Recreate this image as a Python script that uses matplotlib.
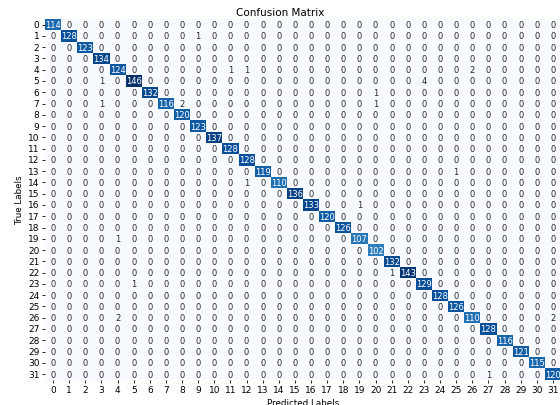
import numpy as np
import matplotlib
matplotlib.use("Agg")
import matplotlib.pyplot as plt
import seaborn as sns

n_classes = 32
labels = [str(i) for i in range(n_classes)]

# correct predictions per class (diagonal)
diagonal = [114, 128, 123, 134, 124, 146, 132, 116, 120, 123, 137, 128, 128, 119, 110, 136,
            133, 120, 126, 107, 102, 132, 143, 129, 128, 126, 110, 128, 116, 121, 115, 120]

# misclassifications: true label, predicted label, count
off_true = [1, 4, 4, 4, 5, 5, 6, 7, 7, 7, 13, 14, 16, 19, 22, 23, 26, 26, 31]
off_pred = [9, 11, 12, 26, 3, 23, 20, 3, 8, 20, 25, 12, 19, 4, 21, 5, 4, 31, 27]
off_count = [1, 1, 1, 2, 1, 4, 1, 1, 2, 1, 1, 1, 1, 1, 1, 1, 2, 2, 1]

cm = np.diag(diagonal).astype(int)
for t, p, c in zip(off_true, off_pred, off_count):
    cm[t, p] = c

fig = plt.figure(figsize=(5.6, 4.06), dpi=100)
ax = fig.add_axes([45 / 560, 1 - 380.7 / 406, 516 / 560, 360.7 / 406])

sns.heatmap(cm, annot=True, fmt="d", cmap="Blues", cbar=False, ax=ax,
            xticklabels=labels, yticklabels=labels,
            annot_kws={"fontsize": 6})

fig.suptitle("Confusion Matrix", x=0.5, y=1 - 13.3 / 406, va="center", fontsize=7.5)
ax.set_xlabel("Predicted Labels", fontsize=6.3, labelpad=3)
ax.set_ylabel("True Labels", fontsize=6.3, labelpad=3)
ax.tick_params(axis="both", labelsize=6.5, length=2, width=0.6, pad=2)
plt.setp(ax.get_yticklabels(), rotation=0)
plt.setp(ax.get_xticklabels(), rotation=0)

fig.savefig("out.png", dpi=100)
